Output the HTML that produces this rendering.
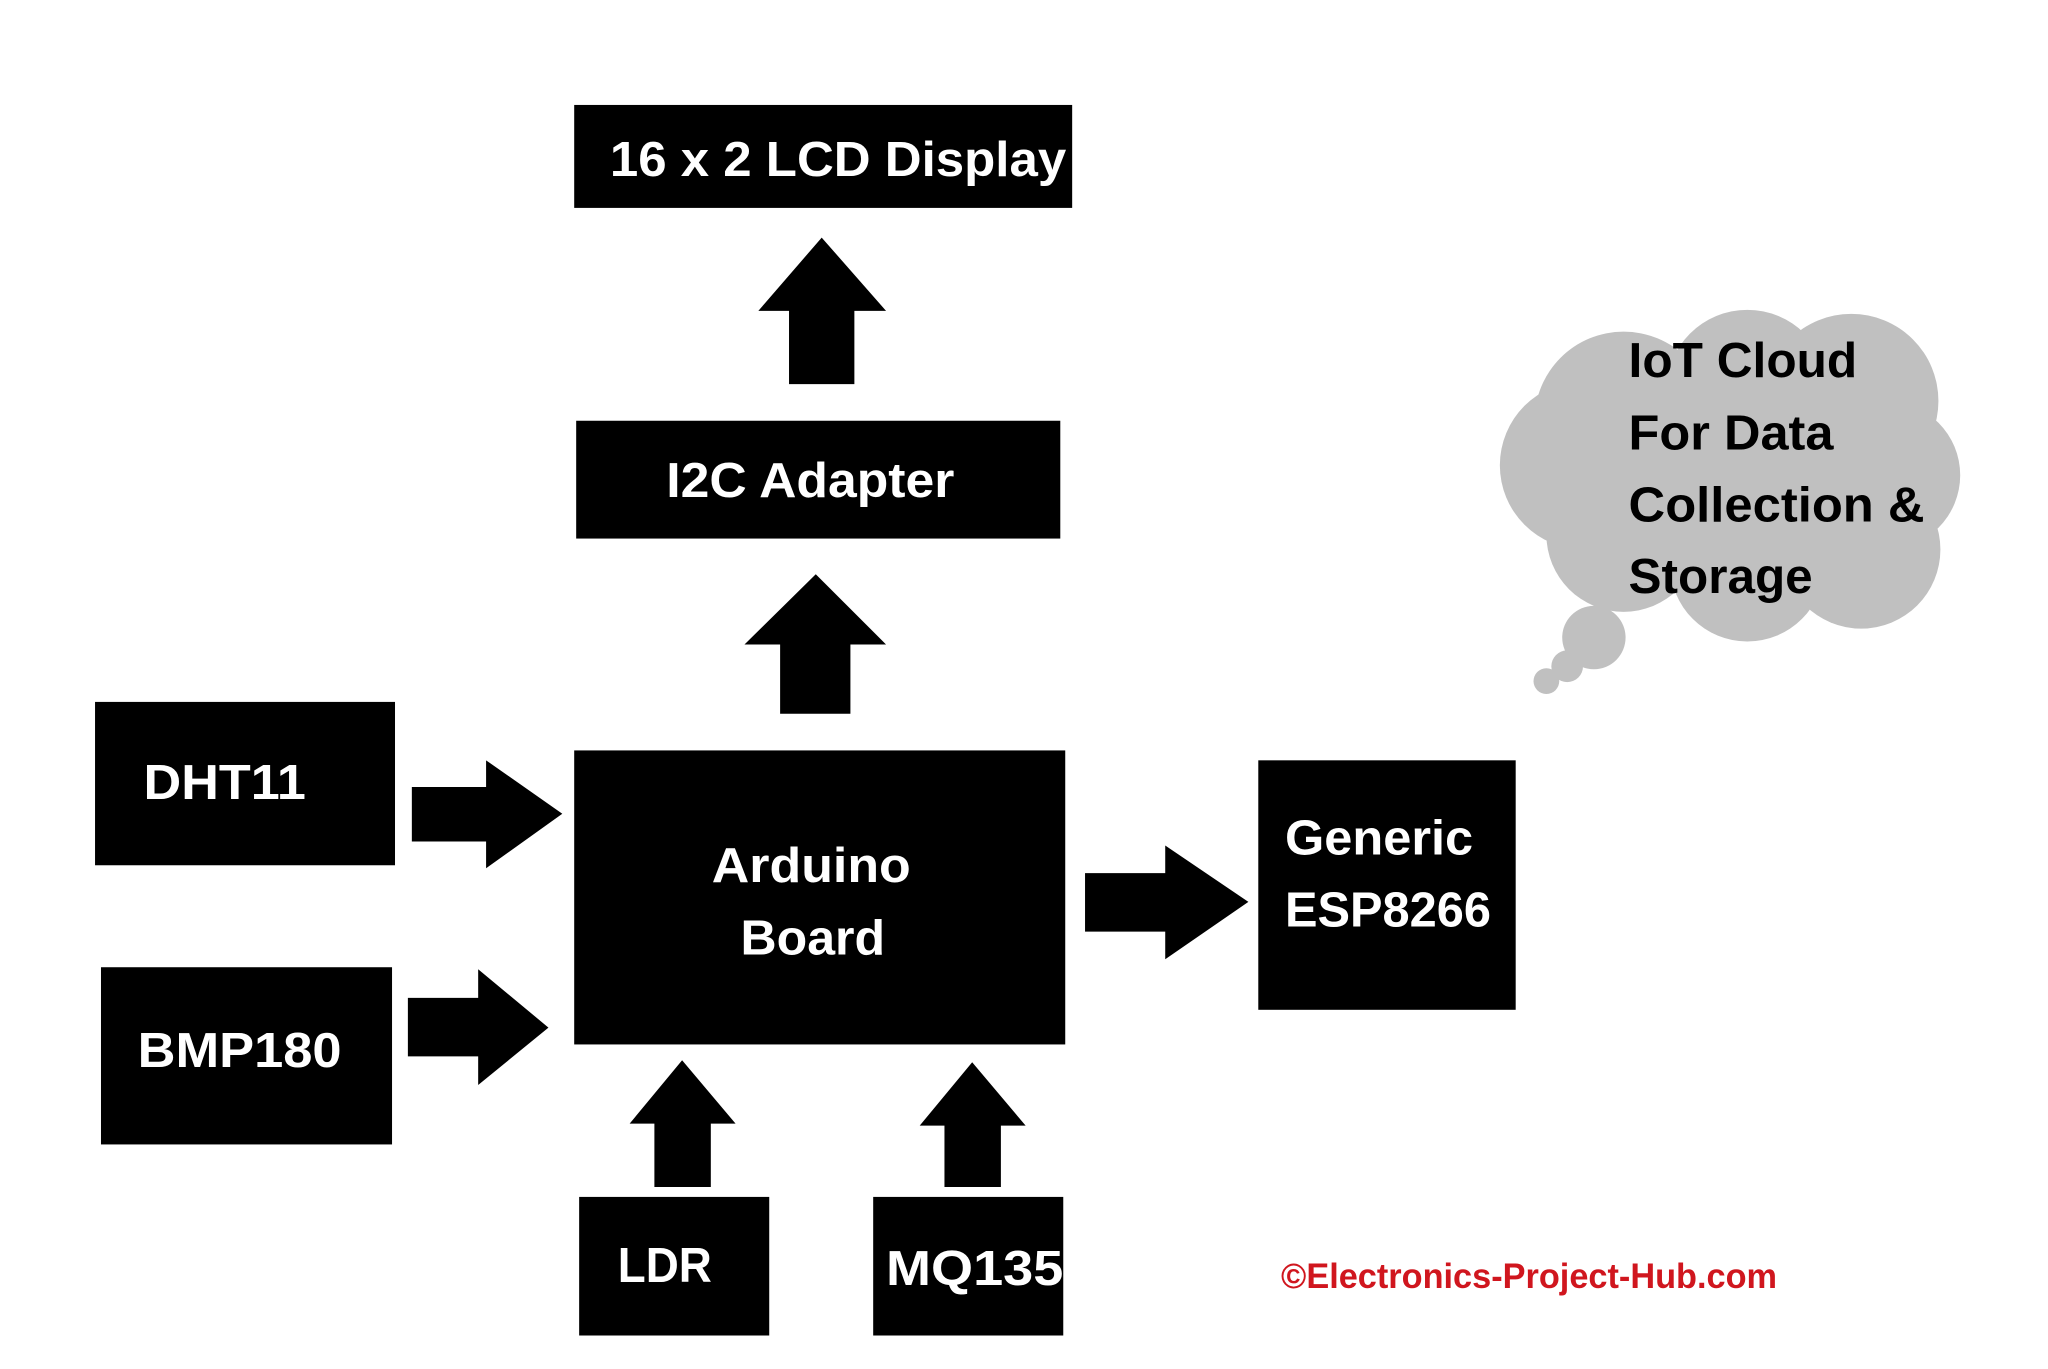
<!DOCTYPE html>
<html><head><meta charset="utf-8"><style>html,body{margin:0;padding:0;background:#fff}svg{display:block}</style></head>
<body>
<svg width="2048" height="1369" viewBox="0 0 2048 1369" xmlns="http://www.w3.org/2000/svg" font-family="'Liberation Sans', sans-serif" font-weight="bold">
<rect width="2048" height="1369" fill="#fff"/>
<g transform="scale(0.99)">
<g fill="#c0c0c0">
<circle cx="1640" cy="425" r="90"/><circle cx="1765" cy="395" r="82"/><circle cx="1870" cy="405" r="88"/>
<circle cx="1905" cy="480" r="75"/><circle cx="1880" cy="555" r="80"/><circle cx="1765" cy="570" r="78"/>
<circle cx="1640" cy="540" r="78"/><circle cx="1600" cy="470" r="85"/><circle cx="1750" cy="480" r="120"/>
<circle cx="1610" cy="644" r="32"/><circle cx="1583" cy="673" r="16"/><circle cx="1562" cy="688" r="13"/>
</g>
<g fill="#000">
<rect x="580" y="106" width="503" height="104"/>
<rect x="582" y="425" width="489" height="119"/>
<rect x="96" y="709" width="303" height="165"/>
<rect x="102" y="977" width="294" height="179"/>
<rect x="580" y="758" width="496" height="297"/>
<rect x="1271" y="768" width="260" height="252"/>
<rect x="585" y="1209" width="192" height="140"/>
<rect x="882" y="1209" width="192" height="140"/>
<polygon points="830,240 895,314 863,314 863,388 797,388 797,314 766,314"/>
<polygon points="824,580 895,651 859,651 859,721 788,721 788,651 752,651"/>
<polygon points="568,822 491,768 491,795 416,795 416,850 491,850 491,877"/>
<polygon points="554,1038 483,979 483,1008 412,1008 412,1067 483,1067 483,1096"/>
<polygon points="1261,911 1177,854 1177,882 1096,882 1096,941 1177,941 1177,969"/>
<polygon points="689,1071 743,1135 718,1135 718,1199 661,1199 661,1135 636,1135"/>
<polygon points="982,1073 1036,1137 1011,1137 1011,1199 954,1199 954,1137 929,1137"/>
</g>
<g fill="#fff" font-size="50">
<text x="616" y="178" textLength="461" lengthAdjust="spacingAndGlyphs">16 x  2 LCD Display</text>
<text x="673" y="502" textLength="291" lengthAdjust="spacingAndGlyphs">I2C Adapter</text>
<text x="145" y="807" textLength="164" lengthAdjust="spacingAndGlyphs">DHT11</text>
<text x="139" y="1078" textLength="206" lengthAdjust="spacingAndGlyphs">BMP180</text>
<text x="719" y="891" textLength="201" lengthAdjust="spacingAndGlyphs">Arduino</text>
<text x="748" y="964" textLength="146" lengthAdjust="spacingAndGlyphs">Board</text>
<text x="1298" y="863" textLength="190" lengthAdjust="spacingAndGlyphs">Generic</text>
<text x="1298" y="936" textLength="208" lengthAdjust="spacingAndGlyphs">ESP8266</text>
<text x="624" y="1295" textLength="95" lengthAdjust="spacingAndGlyphs">LDR</text>
<text x="895" y="1298" textLength="179" lengthAdjust="spacingAndGlyphs">MQ135</text>
</g>
<g fill="#000" font-size="50">
<text x="1645" y="381" textLength="231" lengthAdjust="spacingAndGlyphs">IoT Cloud</text>
<text x="1645" y="454" textLength="207" lengthAdjust="spacingAndGlyphs">For Data</text>
<text x="1645" y="527" textLength="299" lengthAdjust="spacingAndGlyphs">Collection &amp;</text>
<text x="1645" y="599" textLength="186" lengthAdjust="spacingAndGlyphs">Storage</text>
</g>
<text x="1294" y="1301" fill="#d0161e" font-size="36" textLength="501" lengthAdjust="spacingAndGlyphs">©Electronics-Project-Hub.com</text>
</g>
</svg>
</body></html>
